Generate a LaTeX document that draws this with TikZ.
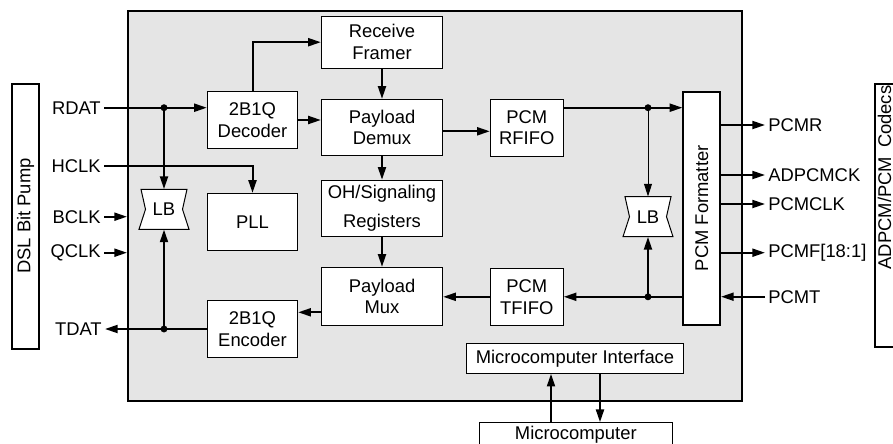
\documentclass[tikz,border=0pt]{standalone}
\usepackage{fontspec}
\setmainfont{Liberation Sans}
\usetikzlibrary{arrows.meta}

\definecolor{chipgray}{gray}{0.9}

\tikzset{
  txt/.style={font=\fontsize{13.8}{16.3}\selectfont},
  blk/.style={txt, draw, line width=0.75pt, fill=white, align=center, inner sep=0pt},
  sigl/.style={txt, inner sep=2.25pt},
  sig/.style={line width=1.5pt, -{Triangle[length=9.5pt,width=6pt]}},
  thinsig/.style={line width=0.75pt, -{Triangle[length=9.5pt,width=6pt]}},
  lbtxt/.style={txt, minimum width=37.5pt, minimum height=30pt, inner sep=0pt}
}

% hourglass outline of a loop-back switch, drawn round a centre point
\newcommand\lbshape[1]{%
  \draw[line width=0.75pt, fill=white]
    ([shift={(-23,-20)}]#1) -- ([shift={(23,-20)}]#1) -- ([shift={(18.5,0)}]#1)
    -- ([shift={(25,20)}]#1) -- ([shift={(-25,20)}]#1) -- ([shift={(-18.5,0)}]#1) -- cycle;}

\begin{document}
\begin{tikzpicture}[x=0.75pt, y=-0.75pt]
        \useasboundingbox (0,0) rectangle (893,443);

        % the chip
        \node[draw, line width=1.5pt, fill=chipgray, minimum width=460.5pt, minimum height=292.5pt, inner sep=0pt] (chip) at (435,206) {};

        % outside blocks
        \node[blk, line width=1.5pt, minimum width=20.25pt, minimum height=198.75pt] (dsl) at (25.5,216) {\rotatebox{90}{DSL Bit Pump}};
        \node[draw, line width=1.5pt, minimum width=22.5pt, minimum height=197.25pt, inner sep=0pt] (codec) at (890,215.5) {};
        \node[txt, inner sep=0pt] (codectxt) at (884.5,177.5) {\rotatebox{90}{ADPCM/PCM\hspace{6.75pt}Codecs}};
        \node[blk, minimum width=144.75pt, minimum height=17.5pt] (mc) at (575.8,434.3) {Microcomputer};

        % blocks inside the chip
        \node[blk, minimum width=91pt, minimum height=39pt] (frm) at (382,42.2) {Receive\\Framer};
        \node[blk, minimum width=91pt, minimum height=42pt] (dem) at (382,127.3) {Payload\\Demux};
        \node[blk, minimum width=91pt, minimum height=42pt] (oh) at (382,208.2) {OH/Signaling\\[5pt]Registers};
        \node[blk, minimum width=91pt, minimum height=43.5pt] (mux) at (382,296.3) {Payload\\Mux};
        \node[blk, minimum width=67.8pt, minimum height=42.5pt] (dec) at (252.5,120) {2B1Q\\Decoder};
        \node[blk, minimum width=67.8pt, minimum height=42.5pt] (pll) at (252.5,221.7) {PLL};
        \node[blk, minimum width=67.8pt, minimum height=42.5pt] (enc) at (252.5,329) {2B1Q\\Encoder};
        \node[blk, minimum width=54.75pt, minimum height=42.5pt] (rf) at (526.8,127.7) {PCM\\RFIFO};
        \node[blk, minimum width=54.75pt, minimum height=42.75pt] (tf) at (526.8,296.8) {PCM\\TFIFO};
        \node[blk, line width=1.5pt, minimum width=27.5pt, minimum height=175pt] (fmt) at (701.7,208.3) {\rotatebox{90}{PCM Formatter}};
        \node[blk, minimum width=162.5pt, minimum height=22.5pt] (mi) at (575,358.3) {Microcomputer Interface};

        % loop-back switches
        \lbshape{164,209.3}
        \node[lbtxt] (lbL) at (164,209.3) {LB};
        \lbshape{648,216.7}
        \node[lbtxt] (lbR) at (648,216.7) {LB};

        % pin names
        \node[sigl, anchor=east] (rdat) at (104,107.7) {RDAT};
        \node[sigl, anchor=east] (hclk) at (104,166) {HCLK};
        \node[sigl, anchor=east] (bclk) at (104,216.7) {BCLK};
        \node[sigl, anchor=east] (qclk) at (104,252.7) {QCLK};
        \node[sigl, anchor=east] (tdat) at (105,329) {TDAT};
        \node[sigl, anchor=west] (pcmr) at (765,125) {PCMR};
        \node[sigl, anchor=west] (adpcmck) at (765,175) {ADPCMCK};
        \node[sigl, anchor=west] (pcmclk) at (765,204) {PCMCLK};
        \node[sigl, anchor=west] (pcmf) at (765,252.7) {PCMF[18:1]};
        \node[sigl, anchor=west] (pcmt) at (765,296.7) {PCMT};

        % line side
        \draw[sig] (rdat.east) -- (rdat.east -| dec.west);
        \coordinate (jr) at (lbL |- rdat.east);
        \draw[sig] (jr) -- (lbL.north);
        \draw[sig] (hclk.east) -| (pll.north);
        \draw[sig] (bclk.east) -- (bclk.east -| chip.west);
        \draw[sig] (qclk.east) -- (qclk.east -| chip.west);
        \draw[sig] (enc.west) -- (tdat.east);
        \coordinate (jt) at (lbL |- enc.west);
        \draw[sig] (jt) -- (lbL.south);

        % receive path
        \draw[sig] (dec.north) |- (frm.west);
        \draw[sig] (dec.east) -- (dec.east -| dem.west);
        \draw[sig] (frm) -- (dem);
        \draw[sig] (dem) -- (oh);
        \draw[sig] (oh) -- (mux);
        \draw[sig] ([yshift=-3pt]dem.east) -- ([yshift=-3pt]dem.east -| rf.west);
        \coordinate (rfo) at ([yshift=15pt]rf.east);
        \draw[sig] (rfo) -- (rfo -| fmt.west);
        \coordinate (jf) at (lbR |- rfo);
        \draw[thinsig] (jf) -- (lbR.north);

        % transmit path
        \draw[sig] (tf.east -| fmt.west) -- (tf.east);
        \coordinate (jtf) at (lbR |- tf.east);
        \draw[sig] (jtf) -- (lbR.south);
        \draw[sig] (tf.west) -- (tf.west -| mux.east);
        \coordinate (mxo) at ([yshift=-12pt]mux.west);
        \draw[sig] (mxo) -- (mxo -| enc.east);

        % PCM side
        \foreach \s in {pcmr,adpcmck,pcmclk,pcmf}
            \draw[sig] (\s.west -| fmt.east) -- (\s.west);
        \draw[sig] (pcmt.west) -- (pcmt.west -| fmt.east);

        % microcomputer bus
        \draw[sig] ([xshift=-18pt]mi.south |- mc.north) -- ([xshift=-18pt]mi.south);
        \draw[sig] ([xshift=18.75pt]mi.south) -- ([xshift=18.75pt]mi.south |- mc.north);

        % junction dots
        \foreach \j in {jr,jt,jf,jtf}
            \fill (\j) circle (2.6pt);
    \end{tikzpicture}
\end{document}
